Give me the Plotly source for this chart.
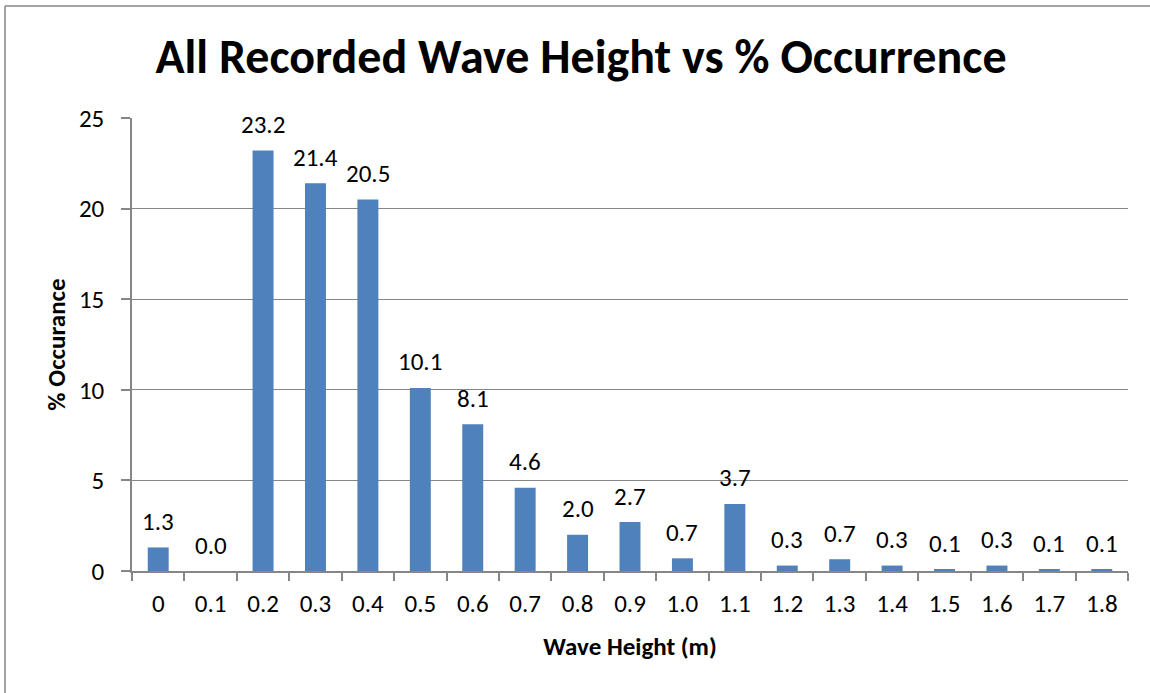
import plotly.graph_objects as go

categories = ["0", "0.1", "0.2", "0.3", "0.4", "0.5", "0.6", "0.7", "0.8", "0.9",
              "1.0", "1.1", "1.2", "1.3", "1.4", "1.5", "1.6", "1.7", "1.8"]
occurrence = [1.3, 0.0, 23.2, 21.4, 20.5, 10.1, 8.1, 4.6, 2.0, 2.7,
              0.7, 3.7, 0.3, 0.65, 0.3, 0.1, 0.3, 0.1, 0.06]
y_ticks = [0, 5, 10, 15, 20, 25]

W, H = 1150, 693
L, R, T, B = 132, 22, 118, 122
FONT = "Carlito, Lato, 'Open Sans', sans-serif"

fig = go.Figure()
fig.add_trace(go.Bar(
    x=categories, y=occurrence,
    marker=dict(color="#4F81BD", line=dict(width=0)),
    width=0.4,
    hoverinfo="x+y",
))

# data labels above each bar (category index position on the category axis)
for i, v in enumerate(occurrence):
    fig.add_annotation(x=i, y=v, xref="x", yref="y", text=f"{v:.1f}",
                       showarrow=False, yanchor="middle", yshift=26,
                       font=dict(size=25, color="#000000", family=FONT))

pw = W - L - R
ph = H - T - B
def px_x(p):
    return (p - L) / pw
def px_y(p):
    return (H - B - p) / ph

fig.update_layout(
    width=W, height=H,
    margin=dict(l=L, r=R, t=T, b=B),
    paper_bgcolor="white", plot_bgcolor="white",
    font=dict(family=FONT, color="#000000"),
    showlegend=False,
    title=dict(text="<b>All Recorded Wave Height vs % Occurrence</b>",
               font=dict(size=48, family=FONT, color="#000000"),
               x=581 / W, xanchor="center", xref="container",
               y=1 - 56 / H, yanchor="middle", yref="container"),
    xaxis=dict(
        type="category", showgrid=False,
        showline=True, linecolor="#868686", linewidth=1.5,
        ticks="outside", tickson="boundaries", ticklen=8, tickcolor="#868686", tickwidth=1.5,
        ticklabelstandoff=9,
        tickfont=dict(size=25, family=FONT),
        title=dict(text="<b>Wave Height (m)</b>", font=dict(size=25, family=FONT), standoff=20),
    ),
    yaxis=dict(
        range=[0, 25], tickvals=y_ticks, showgrid=True, gridcolor="#868686", gridwidth=1.2,
        showline=True, linecolor="#868686", linewidth=1.5,
        ticks="outside", ticklen=9, tickcolor="#868686", tickwidth=1.5,
        ticklabelstandoff=12,
        tickfont=dict(size=25, family=FONT), zeroline=False,
        title=dict(text="<b>% Occurance</b>", font=dict(size=25, family=FONT), standoff=6),
    ),
    bargap=0.6,
)

# chart outer border (left and top edges visible in frame)
fig.add_shape(type="line", xref="paper", yref="paper",
              x0=px_x(5), x1=px_x(5), y0=px_y(6), y1=px_y(700),
              line=dict(color="#868686", width=1.5))
fig.add_shape(type="line", xref="paper", yref="paper",
              x0=px_x(5), x1=px_x(1160), y0=px_y(6), y1=px_y(6),
              line=dict(color="#868686", width=1.5))

fig.write_html("out.html", config={"displayModeBar": False},
               post_script="document.body.style.margin='0px';")
